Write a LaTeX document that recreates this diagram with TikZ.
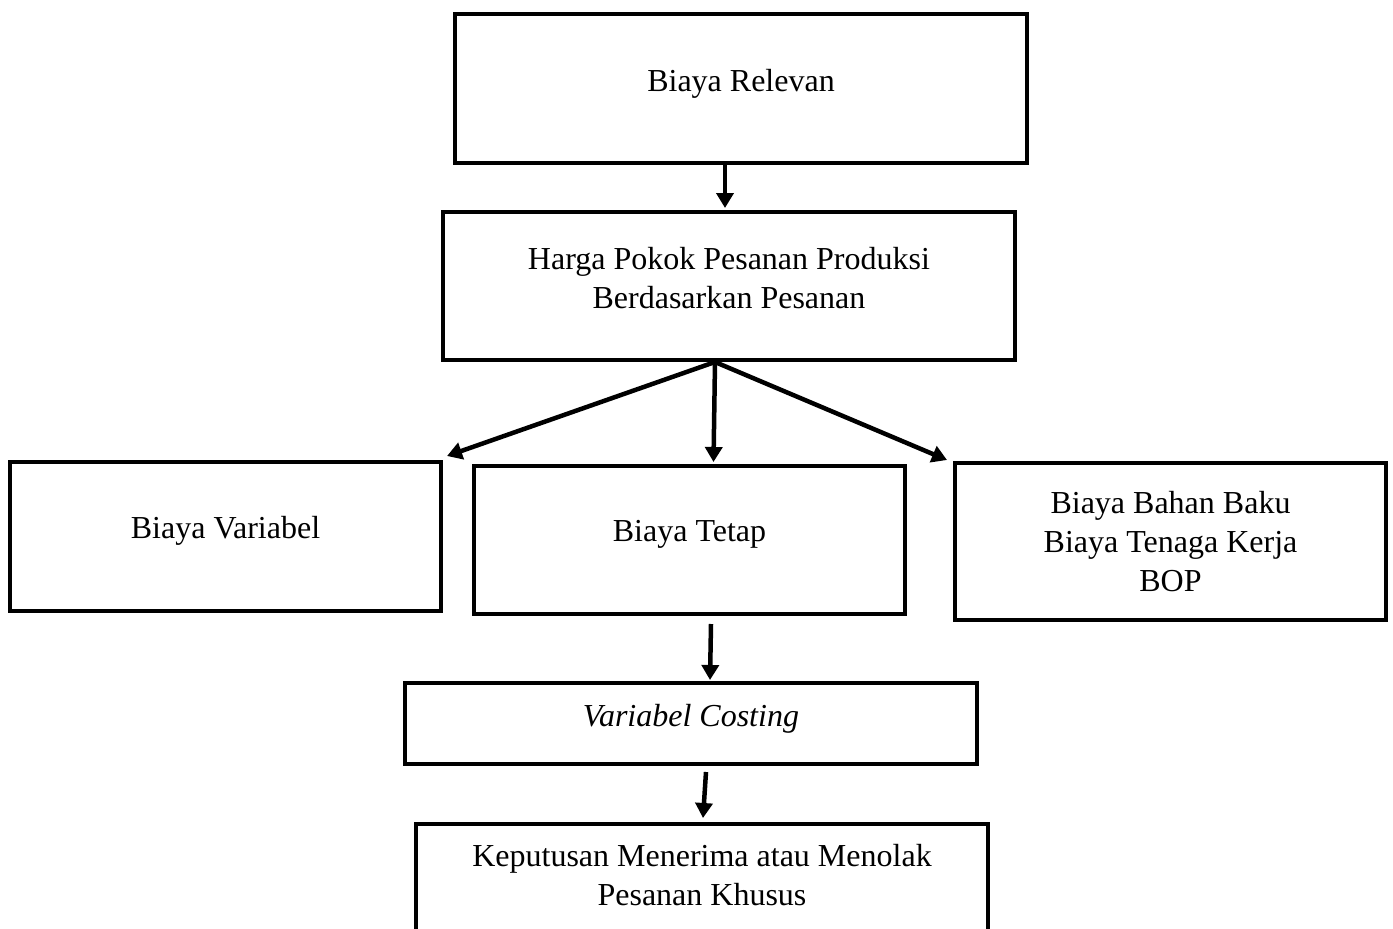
\documentclass[tikz,border=0pt]{standalone}
\usepackage{fontspec}
\setmainfont{Liberation Serif}
\usetikzlibrary{arrows.meta}

\begin{document}
\begin{tikzpicture}[x=1pt, y=-1pt,
        >={Triangle[length=15pt,width=17pt]},
        box/.style={draw, line width=4pt, rectangle, inner sep=0pt,
            align=center, font=\fontsize{32}{39}\selectfont},
        wide/.style={box, minimum width=572pt},
        narrow/.style={box, minimum width=431pt},
        arr/.style={->, line width=4.5pt}]

        % the frame of the picture
        \useasboundingbox (0,0) rectangle (1393,929);

        % The first box -> Biaya Relevan
        \node[wide, minimum height=149pt] (relevan) at (741,88.5) {Biaya Relevan\\[-23pt]};

        % The second box -> Harga Pokok
        \node[wide, minimum height=148pt] (harga) at (729,286)
            {Harga Pokok Pesanan Produksi\\Berdasarkan Pesanan\\[-22pt]};

        % the three boxes in the middle row
        \node[narrow, minimum height=149pt] (variabel) at (225.5,536.5) {Biaya Variabel\\[-20pt]};
        \node[narrow, minimum height=148pt] (tetap) at (689.5,540) {Biaya Tetap\\[-20pt]};
        \node[narrow, minimum height=157pt] (bahan) at (1170.5,541.5)
            {Biaya Bahan Baku\\Biaya Tenaga Kerja\\BOP};

        % The box for Variabel Costing
        \node[wide, minimum height=81pt] (costing) at (691,723.5)
            {\itshape Variabel Costing\\[-22pt]};

        % The last box, cut off at the bottom -> Keputusan
        \node[wide, minimum height=150pt, anchor=north] (keputusan) at (702,822) {};
        \node[align=center, anchor=north, inner sep=0pt,
            font=\fontsize{32}{39}\selectfont] (keputusantxt)
            at ([yshift=-22pt]keputusan.north)
            {Keputusan Menerima atau Menolak\\Pesanan Khusus};

        % Arrow from Biaya Relevan to Harga Pokok
        \draw[arr] ([xshift=-16pt]relevan.south) -- ([xshift=-4pt,yshift=2pt]harga.north);

        % The three arrows from Harga Pokok
        \draw[arr] ([xshift=-14pt]harga.south) -- ([shift={(4pt,4pt)}]variabel.north east);
        \draw[arr] ([xshift=-14pt]harga.south) -- ([xshift=24pt,yshift=2pt]tetap.north);
        \draw[arr] ([xshift=-14pt]harga.south) -- ([shift={(-6pt,1pt)}]bahan.north west);

        % Arrow from Biaya Tetap to Variabel Costing
        \draw[arr] ([xshift=21.5pt,yshift=-8pt]tetap.south) -- ([xshift=19pt,yshift=1pt]costing.north);

        % Arrow from Variabel Costing to Keputusan
        \draw[arr] ([xshift=15pt,yshift=-6pt]costing.south) -- ([xshift=1pt,yshift=4pt]keputusan.north);
    \end{tikzpicture}
\end{document}
